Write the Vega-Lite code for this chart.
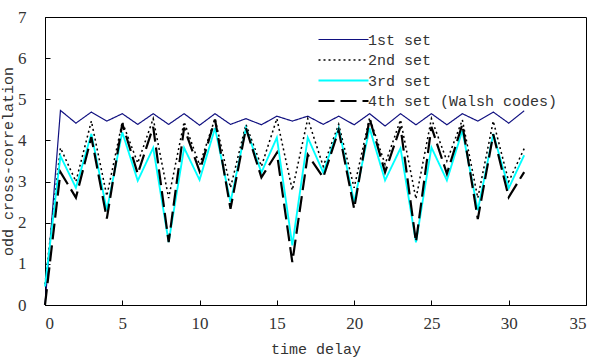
{
  "$schema": "https://vega.github.io/schema/vega-lite/v6.json",
  "width": 541,
  "height": 288,
  "autosize": "none",
  "padding": {"left": 45, "top": 17, "right": 6, "bottom": 53},
  "background": "white",
  "config": {
    "view": {"stroke": "#000000", "strokeWidth": 1},
    "axis": {
      "grid": false,
      "domainColor": "#000000",
      "tickColor": "#000000",
      "tickSize": -5,
      "labelFont": "Liberation Serif",
      "labelFontSize": 17,
      "labelColor": "#333333",
      "titleFont": "Liberation Mono",
      "titleFontSize": 15,
      "titleFontWeight": "normal",
      "titleColor": "#333333"
    },
    "legend": {
      "title": null, "orient": "none", "legendX": 291, "legendY": 15,
      "symbolType": "M-5,0H5", "symbolSize": 100, "rowPadding": 4.5,
      "labelFont": "Liberation Mono", "labelFontSize": 15, "labelColor": "#333333",
      "labelOffset": 17, "labelLimit": 400
    }
  },
  "data": {
    "values": [
      {"t":0,"s":"1st set","v":0},{"t":1,"s":"1st set","v":4.73},{"t":2,"s":"1st set","v":4.42},{"t":3,"s":"1st set","v":4.69},{"t":4,"s":"1st set","v":4.47},{"t":5,"s":"1st set","v":4.65},{"t":6,"s":"1st set","v":4.39},{"t":7,"s":"1st set","v":4.65},{"t":8,"s":"1st set","v":4.39},{"t":9,"s":"1st set","v":4.65},{"t":10,"s":"1st set","v":4.37},{"t":11,"s":"1st set","v":4.65},{"t":12,"s":"1st set","v":4.39},{"t":13,"s":"1st set","v":4.53},{"t":14,"s":"1st set","v":4.38},{"t":15,"s":"1st set","v":4.59},{"t":16,"s":"1st set","v":4.47},{"t":17,"s":"1st set","v":4.59},{"t":18,"s":"1st set","v":4.39},{"t":19,"s":"1st set","v":4.59},{"t":20,"s":"1st set","v":4.38},{"t":21,"s":"1st set","v":4.65},{"t":22,"s":"1st set","v":4.35},{"t":23,"s":"1st set","v":4.65},{"t":24,"s":"1st set","v":4.38},{"t":25,"s":"1st set","v":4.65},{"t":26,"s":"1st set","v":4.38},{"t":27,"s":"1st set","v":4.65},{"t":28,"s":"1st set","v":4.47},{"t":29,"s":"1st set","v":4.69},{"t":30,"s":"1st set","v":4.42},{"t":31,"s":"1st set","v":4.72},
      {"t":0,"s":"2nd set","v":0.5},{"t":1,"s":"2nd set","v":3.82},{"t":2,"s":"2nd set","v":3.0},{"t":3,"s":"2nd set","v":4.47},{"t":4,"s":"2nd set","v":2.65},{"t":5,"s":"2nd set","v":4.45},{"t":6,"s":"2nd set","v":3.45},{"t":7,"s":"2nd set","v":4.53},{"t":8,"s":"2nd set","v":2.6},{"t":9,"s":"2nd set","v":4.45},{"t":10,"s":"2nd set","v":3.4},{"t":11,"s":"2nd set","v":4.53},{"t":12,"s":"2nd set","v":2.85},{"t":13,"s":"2nd set","v":4.39},{"t":14,"s":"2nd set","v":3.37},{"t":15,"s":"2nd set","v":4.53},{"t":16,"s":"2nd set","v":2.79},{"t":17,"s":"2nd set","v":4.53},{"t":18,"s":"2nd set","v":3.37},{"t":19,"s":"2nd set","v":4.39},{"t":20,"s":"2nd set","v":2.85},{"t":21,"s":"2nd set","v":4.55},{"t":22,"s":"2nd set","v":3.42},{"t":23,"s":"2nd set","v":4.5},{"t":24,"s":"2nd set","v":2.58},{"t":25,"s":"2nd set","v":4.53},{"t":26,"s":"2nd set","v":3.5},{"t":27,"s":"2nd set","v":4.5},{"t":28,"s":"2nd set","v":2.6},{"t":29,"s":"2nd set","v":4.47},{"t":30,"s":"2nd set","v":3.0},{"t":31,"s":"2nd set","v":3.8},
      {"t":0,"s":"3rd set","v":0.45},{"t":1,"s":"3rd set","v":3.62},{"t":2,"s":"3rd set","v":2.85},{"t":3,"s":"3rd set","v":4.16},{"t":4,"s":"3rd set","v":2.3},{"t":5,"s":"3rd set","v":4.2},{"t":6,"s":"3rd set","v":3.02},{"t":7,"s":"3rd set","v":3.82},{"t":8,"s":"3rd set","v":1.53},{"t":9,"s":"3rd set","v":3.82},{"t":10,"s":"3rd set","v":3.04},{"t":11,"s":"3rd set","v":4.3},{"t":12,"s":"3rd set","v":2.5},{"t":13,"s":"3rd set","v":4.3},{"t":14,"s":"3rd set","v":3.22},{"t":15,"s":"3rd set","v":4.07},{"t":16,"s":"3rd set","v":1.45},{"t":17,"s":"3rd set","v":4.07},{"t":18,"s":"3rd set","v":3.22},{"t":19,"s":"3rd set","v":4.3},{"t":20,"s":"3rd set","v":2.5},{"t":21,"s":"3rd set","v":4.3},{"t":22,"s":"3rd set","v":3.03},{"t":23,"s":"3rd set","v":3.81},{"t":24,"s":"3rd set","v":1.52},{"t":25,"s":"3rd set","v":3.83},{"t":26,"s":"3rd set","v":3.03},{"t":27,"s":"3rd set","v":4.24},{"t":28,"s":"3rd set","v":2.3},{"t":29,"s":"3rd set","v":4.16},{"t":30,"s":"3rd set","v":2.84},{"t":31,"s":"3rd set","v":3.64},
      {"t":0,"s":"4th set (Walsh codes)","v":0},{"t":1,"s":"4th set (Walsh codes)","v":3.23},{"t":2,"s":"4th set (Walsh codes)","v":2.61},{"t":3,"s":"4th set (Walsh codes)","v":4.08},{"t":4,"s":"4th set (Walsh codes)","v":2.1},{"t":5,"s":"4th set (Walsh codes)","v":4.41},{"t":6,"s":"4th set (Walsh codes)","v":3.19},{"t":7,"s":"4th set (Walsh codes)","v":4.33},{"t":8,"s":"4th set (Walsh codes)","v":1.53},{"t":9,"s":"4th set (Walsh codes)","v":4.31},{"t":10,"s":"4th set (Walsh codes)","v":3.25},{"t":11,"s":"4th set (Walsh codes)","v":4.51},{"t":12,"s":"4th set (Walsh codes)","v":2.34},{"t":13,"s":"4th set (Walsh codes)","v":4.3},{"t":14,"s":"4th set (Walsh codes)","v":3.1},{"t":15,"s":"4th set (Walsh codes)","v":3.7},{"t":16,"s":"4th set (Walsh codes)","v":1.04},{"t":17,"s":"4th set (Walsh codes)","v":3.65},{"t":18,"s":"4th set (Walsh codes)","v":3.1},{"t":19,"s":"4th set (Walsh codes)","v":4.25},{"t":20,"s":"4th set (Walsh codes)","v":2.34},{"t":21,"s":"4th set (Walsh codes)","v":4.53},{"t":22,"s":"4th set (Walsh codes)","v":3.23},{"t":23,"s":"4th set (Walsh codes)","v":4.33},{"t":24,"s":"4th set (Walsh codes)","v":1.53},{"t":25,"s":"4th set (Walsh codes)","v":4.33},{"t":26,"s":"4th set (Walsh codes)","v":3.19},{"t":27,"s":"4th set (Walsh codes)","v":4.39},{"t":28,"s":"4th set (Walsh codes)","v":2.09},{"t":29,"s":"4th set (Walsh codes)","v":4.15},{"t":30,"s":"4th set (Walsh codes)","v":2.62},{"t":31,"s":"4th set (Walsh codes)","v":3.23}
    ]
  },
  "mark": {"type": "line", "strokeCap": "butt"},
  "encoding": {
    "x": {
      "field": "t", "type": "quantitative", "title": "time delay",
      "scale": {"domain": [0, 35], "nice": false},
      "axis": {"values": [0,5,10,15,20,25,30,35], "labelPadding": 15, "titlePadding": 10}
    },
    "y": {
      "field": "v", "type": "quantitative", "title": "odd cross-correlation",
      "scale": {"domain": [0, 7], "nice": false},
      "axis": {"values": [0,1,2,3,4,5,6,7], "labelPadding": 24, "titlePadding": 2}
    },
    "color": {
      "field": "s", "type": "nominal",
      "scale": {"domain": ["1st set","2nd set","3rd set","4th set (Walsh codes)"], "range": ["#101080","#000000","#00FFFF","#000000"]}
    },
    "strokeDash": {
      "field": "s", "type": "nominal",
      "scale": {"domain": ["1st set","2nd set","3rd set","4th set (Walsh codes)"], "range": [[1,0],[2,3],[1,0],[16,6]]}
    },
    "strokeWidth": {
      "field": "s", "type": "nominal",
      "scale": {"domain": ["1st set","2nd set","3rd set","4th set (Walsh codes)"], "range": [1.2, 2.2, 1.3, 3.2]}
    }
  }
}
